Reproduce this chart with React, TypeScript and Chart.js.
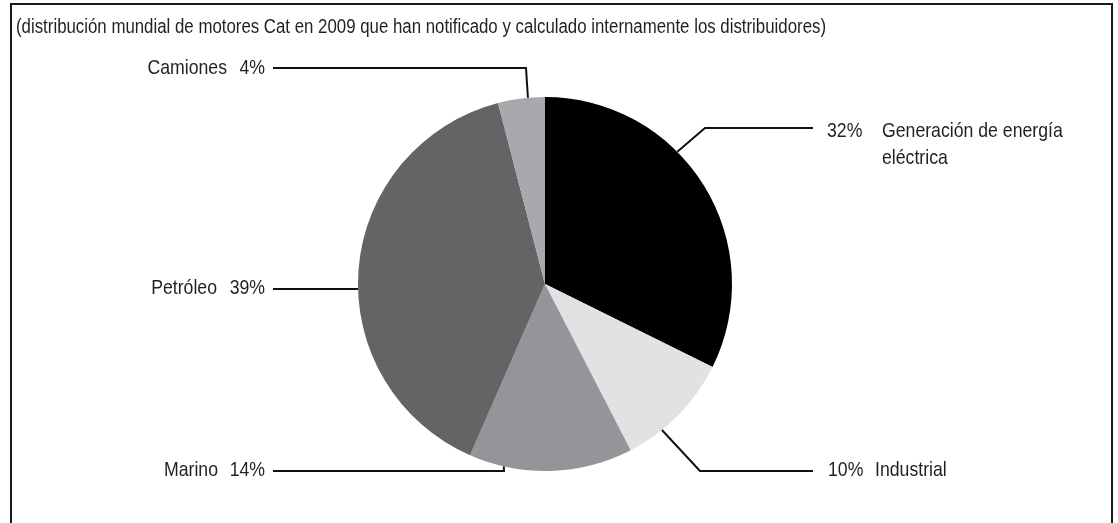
import React, { useEffect, useRef } from "react";
import { Chart, registerables } from "chart.js";

Chart.register(...registerables);

const titleText =
  "(distribución mundial de motores Cat en 2009 que han notificado y calculado internamente los distribuidores)";
const categories = ["Generación de energía eléctrica", "Industrial", "Marino", "Petróleo", "Camiones"];
const values = [32, 10, 14, 39, 4];
const colors = ["#000000", "#e1e2e3", "#939598", "#636466", "#a7a9ac"];

const TITLE_FONT = '20px "Liberation Sans", Arial, sans-serif';
const LABEL_FONT = '21px "Liberation Sans", Arial, sans-serif';
const INK = "#231f20";
const TITLE_WIDTH = 810;

// label layout: where each leader line goes after leaving the slice, and where texts sit
const leaders = [
  { frac: 0.387, pts: [[705, 128], [813, 128]] },
  { frac: 0.686, pts: [[700, 471], [813, 471]] },
  { frac: 0.786, pts: [[504, 471], [273, 471]] },
  { frac: 0.457, pts: [[273, 289]] },
  { frac: 0.64, pts: [[526, 68], [273, 68]] },
];

const texts = [
  { side: "right", pctX: 827, nameX: 882, y: 137, lines: ["Generación de energía", "eléctrica"] },
  { side: "right", pctX: 828, nameX: 875, y: 476, lines: ["Industrial"] },
  { side: "left", pctX: 265, nameX: 218, y: 476, lines: ["Marino"] },
  { side: "left", pctX: 265, nameX: 217, y: 294, lines: ["Petróleo"] },
  { side: "left", pctX: 265, nameX: 227, y: 74, lines: ["Camiones"] },
];

function drawText(ctx: CanvasRenderingContext2D, s: string, x: number, y: number, align: string, sx: number) {
  const w = ctx.measureText(s).width * sx;
  const left = align === "right" ? x - w : x;
  ctx.save();
  ctx.translate(left, y);
  ctx.scale(sx, 1);
  ctx.textAlign = "left";
  ctx.fillText(s, 0, 0);
  ctx.restore();
}

const annotate = {
  id: "annotate",
  afterDraw(chart: any) {
    const ctx = chart.ctx as CanvasRenderingContext2D;
    ctx.save();
    // frame
    ctx.strokeStyle = "#1a1a1a";
    ctx.lineWidth = 2;
    ctx.strokeRect(11, 4, 1101, 540);
    // title
    ctx.fillStyle = INK;
    ctx.font = TITLE_FONT;
    ctx.textBaseline = "alphabetic";
    const sx = TITLE_WIDTH / ctx.measureText(titleText).width;
    drawText(ctx, titleText, 16, 33, "left", sx);

    ctx.font = LABEL_FONT;
    const meta = chart.getDatasetMeta(0);
    meta.data.forEach((arc: any, i: number) => {
      const L = leaders[i];
      const a = arc.startAngle + L.frac * (arc.endAngle - arc.startAngle);
      const ax = arc.x + arc.outerRadius * Math.cos(a);
      const ay = arc.y + arc.outerRadius * Math.sin(a);
      ctx.beginPath();
      ctx.strokeStyle = "#111111";
      ctx.lineWidth = 2;
      ctx.moveTo(ax, ay);
      L.pts.forEach((p) => ctx.lineTo(p[0], p[1]));
      ctx.stroke();

      const T = texts[i];
      const pct = `${values[i]}%`;
      ctx.fillStyle = INK;
      const align = T.side === "right" ? "left" : "right";
      drawText(ctx, pct, T.pctX, T.y, align, sx);
      T.lines.forEach((ln, k) => drawText(ctx, ln, T.nameX, T.y + k * 27, align, sx));
    });
    ctx.restore();
  },
};

export default function App() {
  const ref = useRef<HTMLCanvasElement | null>(null);
  useEffect(() => {
    if (!ref.current) return;
    const chart = new Chart(ref.current, {
      type: "pie",
      data: {
        labels: categories,
        datasets: [
          {
            data: values,
            backgroundColor: colors,
            borderWidth: 0,
          },
        ],
      },
      options: {
        responsive: false,
        animation: false,
        layout: { padding: { left: 358, right: 386, top: 97, bottom: 52 } },
        plugins: { legend: { display: false }, tooltip: { enabled: false } },
      },
      plugins: [annotate],
    });
    return () => chart.destroy();
  }, []);
  return (
    <div style={{ position: "fixed", left: 0, top: 0, width: 1118, height: 523, background: "#fff" }}>
      <canvas ref={ref} width={1118} height={523} style={{ display: "block" }} />
    </div>
  );
}
